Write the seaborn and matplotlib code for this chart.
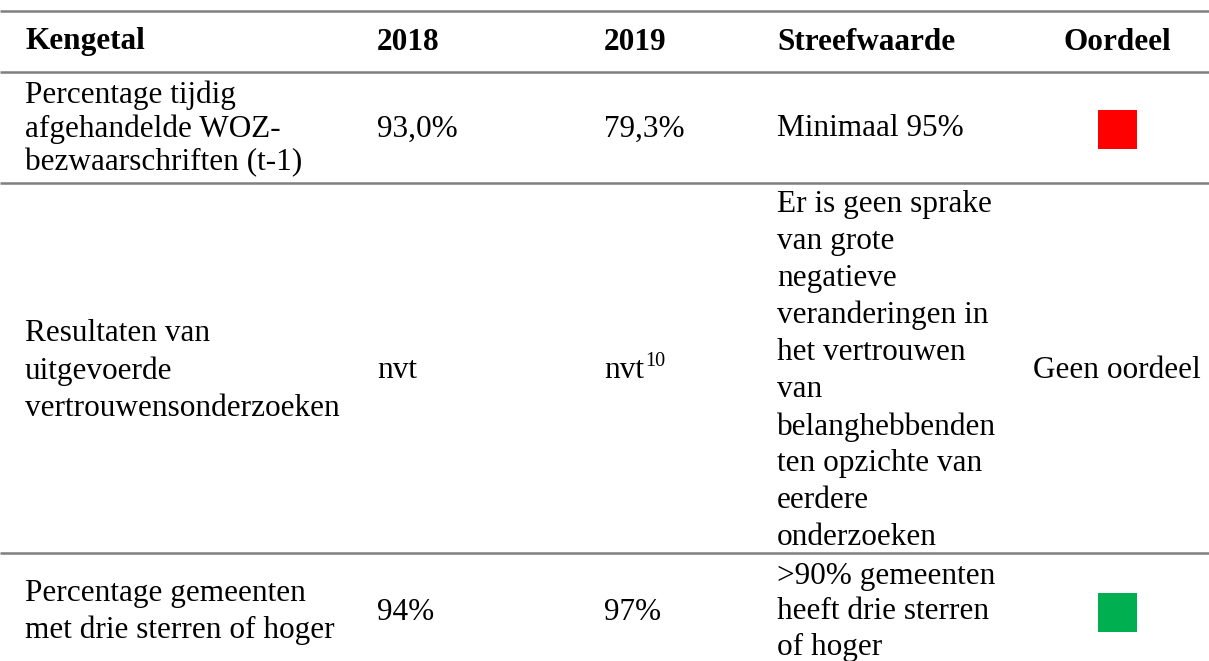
import numpy as np
import pandas as pd
import matplotlib

matplotlib.use('Agg')
import matplotlib.pyplot as plt
import seaborn as sns

# table content
headers = ['Kengetal', '2018', '2019', 'Streefwaarde', 'Oordeel']
kengetal = ['Percentage tijdig\nafgehandelde WOZ-\nbezwaarschriften (t-1)',
            'Resultaten van\nuitgevoerde\nvertrouwensonderzoeken',
            'Percentage gemeenten\nmet drie sterren of hoger']
waarde_2018 = ['93,0%', 'nvt', '94%']
waarde_2019 = ['79,3%', 'nvt', '97%']
voetnoot_2019 = ['', '10', '']
streefwaarde = ['Minimaal 95%',
                'Er is geen sprake\nvan grote\nnegatieve\nveranderingen in\nhet vertrouwen\nvan\n'
                'belanghebbenden\nten opzichte van\neerdere\nonderzoeken',
                '>90% gemeenten\nheeft drie sterren\nof hoger']
oordeel = ['rood', 'Geen oordeel', 'groen']
oordeel_kleur = {'rood': '#FF0000', 'groen': '#00B050'}

# layout (pixel coordinates)
W, H = 1209, 661
col_x = [25, 377, 604, 777]
oordeel_x = 1117
rule_y = [11, 72, 183, 553]
row_y = [129, 371, 612]
row_spacing = [1.18, 1.36, 1.31]
FS = 22.5

sns.set_theme(style='white')
plt.rcParams['font.family'] = ['Liberation Serif', 'DejaVu Serif']
plt.rcParams['text.color'] = 'black'

fig = plt.figure(figsize=(W / 100, H / 100), dpi=100)
ax = fig.add_axes([0, 0, 1, 1])

ax.hlines(rule_y, 0, W, color='#7F7F7F', lw=1.8)

# header
for x, h in zip(col_x, headers[:4]):
    ax.text(x, 42, h, fontsize=FS, fontweight='bold', va='center', ha='left')
ax.text(oordeel_x, 42, headers[4], fontsize=FS, fontweight='bold', va='center', ha='center')

# body
for i, y in enumerate(row_y):
    cells = [kengetal[i], waarde_2018[i], waarde_2019[i], streefwaarde[i]]
    for x, c in zip(col_x, cells):
        ax.text(x, y, c, fontsize=FS, va='center', ha='left', linespacing=row_spacing[i])
    if voetnoot_2019[i]:
        ax.annotate(voetnoot_2019[i], (col_x[2] + 41, y - 9), fontsize=14.5,
                    va='center', ha='left', annotation_clip=False)
    if oordeel[i] not in oordeel_kleur:
        ax.text(1033, y, oordeel[i], fontsize=FS, va='center', ha='left')

# status squares
df = pd.DataFrame({'x': oordeel_x, 'y': row_y, 'oordeel': oordeel})
df = df[df['oordeel'].isin(oordeel_kleur)]
sns.scatterplot(data=df, x='x', y='y', hue='oordeel', palette=oordeel_kleur,
                marker='s', s=(39 * 0.72) ** 2, linewidth=0, legend=False, ax=ax)
ax.set_xlim(0, W)
ax.set_ylim(H, 0)
ax.axis('off')

fig.savefig('out.png', dpi=100)
